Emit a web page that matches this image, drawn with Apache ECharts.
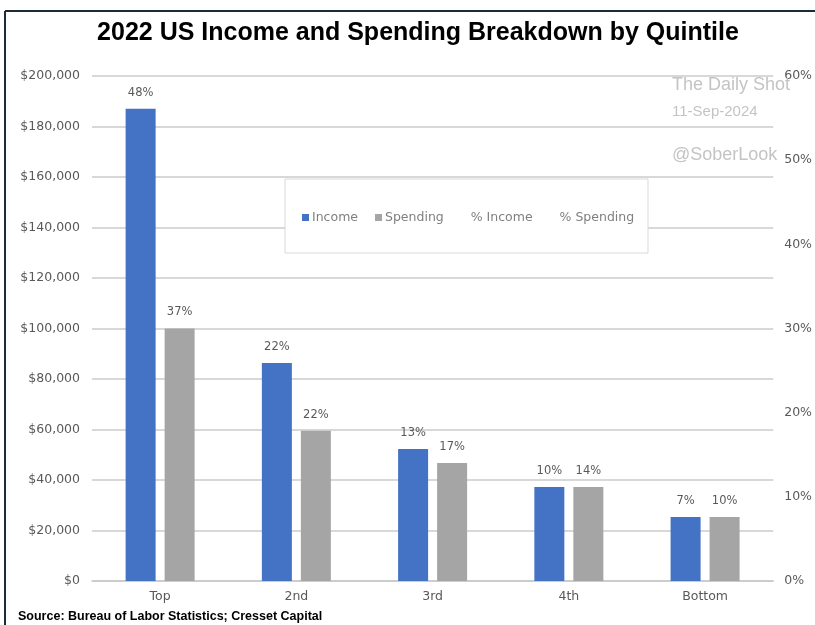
<!DOCTYPE html>
<html>
<head>
<meta charset="utf-8">
<script src="https://cdn.jsdelivr.net/npm/echarts@6/dist/echarts.min.js"></script>
<style>
  html, body { margin: 0; padding: 0; background: #fff; }
  #chart { width: 815px; height: 625px; }
</style>
</head>
<body>
<div id="chart"></div>
<script>
// Quintile groups along the x axis
const quintiles = ['Top', '2nd', '3rd', '4th', 'Bottom'];
// Average annual income and spending per quintile (USD)
const income = [187000, 86300, 52300, 37200, 25300];
const spending = [100000, 59500, 46700, 37200, 25300];
// Share of total income / spending held by each quintile (%)
const pctIncome = [48, 22, 13, 10, 7];
const pctSpending = [37, 22, 17, 14, 10];
// Right-hand percentage axis ticks
const pctTicks = [0, 10, 20, 30, 40, 50, 60];

const axisFont = "'DejaVu Sans', 'Noto Sans', sans-serif";
const labelGrey = '#595959';

const chart = echarts.init(document.getElementById('chart'));

chart.setOption({
  animation: false,
  backgroundColor: '#ffffff',
  grid: { left: 92, right: 36, top: 76, bottom: 44 },
  legend: {
    left: 297,
    top: 206,
    z: 10,
    itemWidth: 7,
    itemHeight: 7,
    itemGap: 17,
    textStyle: { color: '#7f7f7f', fontSize: 12.5, fontFamily: axisFont, padding: [0, 0, 0, -2] },
    data: [
      { name: 'Income', icon: 'rect' },
      { name: 'Spending', icon: 'rect' },
      { name: '% Income', icon: 'none' },
      { name: '% Spending', icon: 'none' }
    ]
  },
  xAxis: {
    type: 'category',
    data: quintiles,
    axisLine: { lineStyle: { color: '#c8c8c8', width: 1.5 } },
    axisTick: { show: false },
    axisLabel: { color: labelGrey, fontSize: 12.5, fontFamily: axisFont, margin: 9 }
  },
  yAxis: [
    {
      type: 'value',
      min: 0,
      max: 200000,
      interval: 20000,
      axisLine: { show: false },
      axisTick: { show: false },
      splitLine: { lineStyle: { color: '#cbcbcb', width: 1.5 } },
      axisLabel: {
        color: labelGrey,
        fontSize: 12.5,
        fontFamily: axisFont,
        margin: 12,
        formatter: v => '$' + v.toLocaleString('en-US')
      }
    },
    {
      type: 'value',
      min: pctTicks[0],
      max: pctTicks[pctTicks.length - 1],
      interval: 10,
      position: 'right',
      axisLine: { show: false },
      axisTick: { show: false },
      splitLine: { show: false },
      axisLabel: {
        color: labelGrey,
        fontSize: 12.5,
        fontFamily: axisFont,
        margin: 11,
        formatter: v => v + '%'
      }
    }
  ],
  series: [
    {
      name: 'Income',
      type: 'bar',
      data: income,
      barWidth: 30,
      barGap: '30%',
      itemStyle: { color: '#4472c4' },
      label: {
        show: true,
        position: 'top',
        distance: 10,
        color: labelGrey,
        fontSize: 11.5,
        fontFamily: axisFont,
        formatter: p => pctIncome[p.dataIndex] + '%'
      }
    },
    {
      name: 'Spending',
      type: 'bar',
      data: spending,
      barWidth: 30,
      itemStyle: { color: '#a5a5a5' },
      label: {
        show: true,
        position: 'top',
        distance: 10,
        color: labelGrey,
        fontSize: 11.5,
        fontFamily: axisFont,
        formatter: p => pctSpending[p.dataIndex] + '%'
      }
    },
    {
      name: '% Income',
      type: 'line',
      yAxisIndex: 1,
      data: [],
      itemStyle: { color: '#ffffff' }
    },
    {
      name: '% Spending',
      type: 'line',
      yAxisIndex: 1,
      data: [],
      itemStyle: { color: '#ffffff' }
    }
  ],
  graphic: [
    // frame edges
    { type: 'line', z: 20, shape: { x1: 5, y1: 11, x2: 815, y2: 11 }, style: { stroke: '#1c2b39', lineWidth: 2 } },
    { type: 'line', z: 20, shape: { x1: 5, y1: 11, x2: 5, y2: 625 }, style: { stroke: '#1c2b39', lineWidth: 2 } },
    // legend panel
    { type: 'rect', z: 5, shape: { x: 285, y: 179, width: 363, height: 74 },
      style: { fill: '#ffffff', stroke: '#d9d9d9', lineWidth: 1 } },
    // heading
    { type: 'text', z: 20, x: 418, y: 33,
      style: { text: '2022 US Income and Spending Breakdown by Quintile', fill: '#000000',
        fontSize: 25, fontWeight: 'bold', fontFamily: "'Liberation Sans', Arial, sans-serif",
        align: 'center', verticalAlign: 'middle' } },
    // credit marks
    { type: 'text', z: 20, x: 672, y: 85,
      style: { text: 'The Daily Shot', fill: '#c4c4c4', fontSize: 18,
        fontFamily: "'Liberation Sans', Arial, sans-serif", verticalAlign: 'middle' } },
    { type: 'text', z: 20, x: 672, y: 112,
      style: { text: '11-Sep-2024', fill: '#c4c4c4', fontSize: 15,
        fontFamily: "'Liberation Sans', Arial, sans-serif", verticalAlign: 'middle' } },
    { type: 'text', z: 20, x: 672, y: 155,
      style: { text: '@SoberLook', fill: '#c4c4c4', fontSize: 18,
        fontFamily: "'Liberation Sans', Arial, sans-serif", verticalAlign: 'middle' } },
    // source note
    { type: 'text', z: 20, x: 18, y: 617,
      style: { text: 'Source: Bureau of Labor Statistics; Cresset Capital', fill: '#000000',
        fontSize: 12.5, fontWeight: 'bold', fontFamily: "'Liberation Sans', Arial, sans-serif",
        verticalAlign: 'middle' } }
  ]
});
</script>
</body>
</html>
